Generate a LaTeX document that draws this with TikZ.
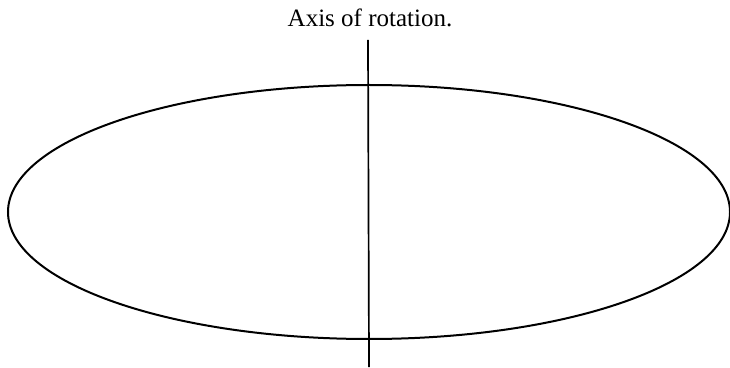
\documentclass[tikz,border=0pt]{standalone}
\usepackage{fontspec}
\setmainfont{Liberation Serif}
\begin{document}
\begin{tikzpicture}[x=1pt,y=1pt,
  curve/.style={line width=2pt,black},
  label/.style={font=\fontsize{25}{30}\selectfont,inner sep=0pt,anchor=base}]
\useasboundingbox (0,0) rectangle (730,367);
\node[label] (lbl) at (370,340) {Axis of rotation.};
\coordinate (axtop) at (368,327);
\coordinate (axbot) at (369,0);
\draw[curve] (369,155) ellipse [x radius=361, y radius=127];
\draw[line width=1.7pt] (axtop) -- (axbot);
\end{tikzpicture}
\end{document}
